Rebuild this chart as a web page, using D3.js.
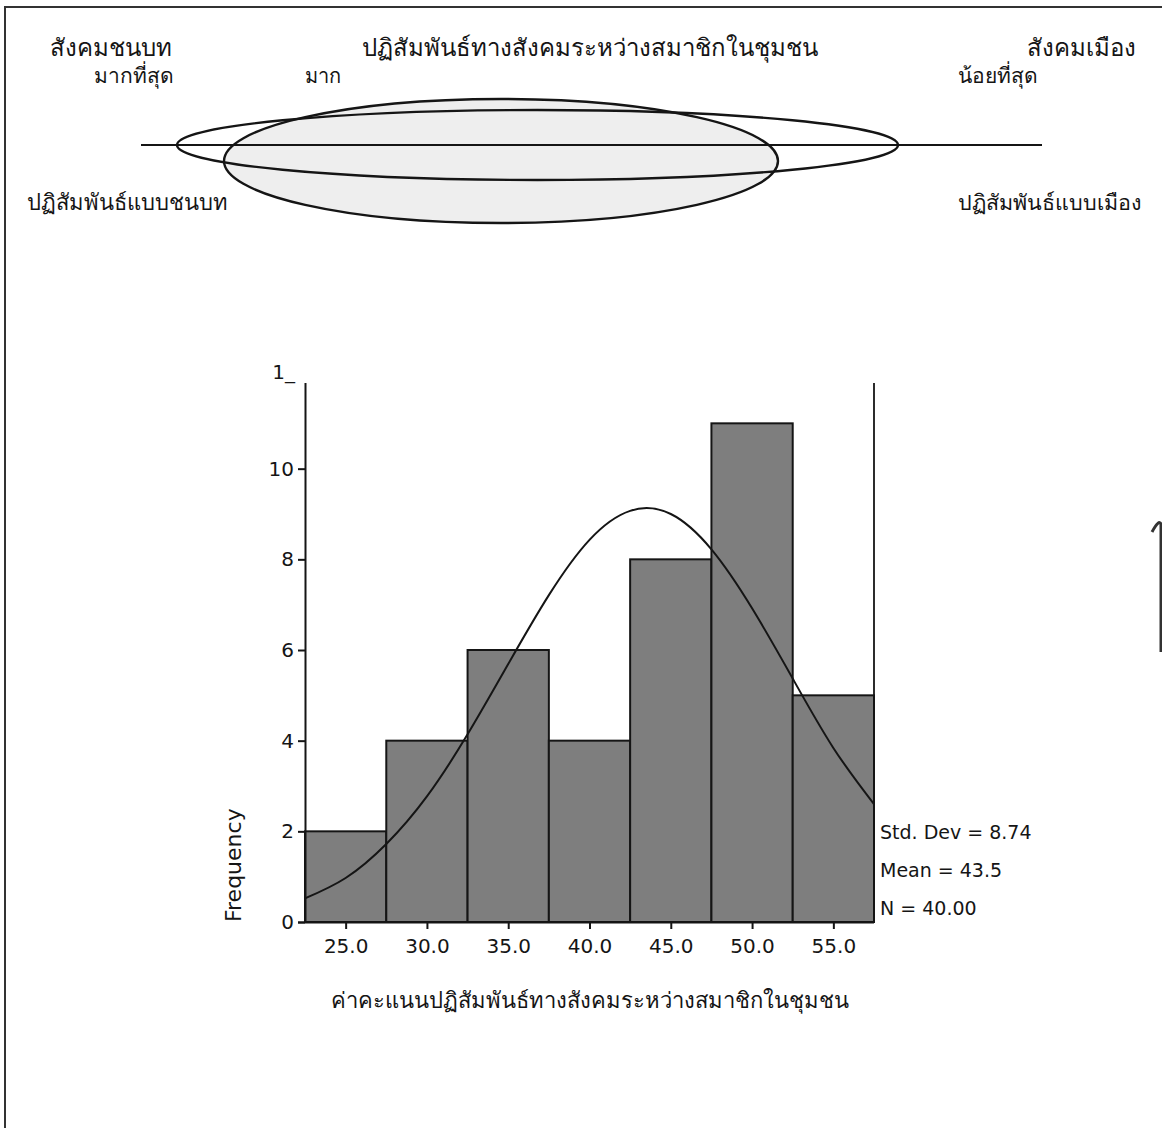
<!DOCTYPE html>
<html>
<head>
<meta charset="utf-8">
<script src="https://cdn.jsdelivr.net/npm/d3@7"></script>
<style>
  html, body { margin: 0; padding: 0; background: #fff; }
  svg { display: block; }
</style>
</head>
<body>
<svg id="chart" width="1162" height="1128"></svg>
<script>
// ---- data ----
const binEdges = [22.5, 27.5, 32.5, 37.5, 42.5, 47.5, 52.5, 57.5];
const binCounts = [2, 4, 6, 4, 8, 11, 5];
const xTickValues = [25, 30, 35, 40, 45, 50, 55];
const xTickLabels = ["25.0", "30.0", "35.0", "40.0", "45.0", "50.0", "55.0"];
const yTickValues = [0, 2, 4, 6, 8, 10, 12];
const yTickLabels = ["0", "2", "4", "6", "8", "10", "1_"];
const curveX = [22.5, 25, 27.5, 30, 32.5, 35, 37.5, 40, 42.5, 45, 47.5, 50, 52.5, 55, 57.5];
const curveY = [0.52, 0.97, 1.72, 2.77, 4.14, 5.69, 7.21, 8.43, 9.07, 9.0, 8.22, 6.92, 5.37, 3.84, 2.6];
const statsLines = ["Std. Dev = 8.74", "Mean = 43.5", "N = 40.00"];
const xTitle = "ค่าคะแนนปฏิสัมพันธ์ทางสังคมระหว่างสมาชิกในชุมชน";
const yTitle = "Frequency";

(function () {
const svg = d3.select("#chart");
const sans = "'DejaVu Sans', sans-serif";
const serif = "'Liberation Serif', 'DejaVu Serif', serif";
const ink = "#151515";

// ---- page frame ----
svg.append("path").attr("d", "M5,1128 L5,7 L1162,7")
  .attr("fill", "none").attr("stroke", "#333").attr("stroke-width", 2);
svg.append("path").attr("d", "M1152,532 Q1159,519 1161,524 L1161,652")
  .attr("fill", "none").attr("stroke", "#333").attr("stroke-width", 3);

// ---- top diagram ----
const diag = svg.append("g");
diag.append("ellipse").attr("cx", 501).attr("cy", 161).attr("rx", 277).attr("ry", 62)
  .attr("fill", "#eeeeee").attr("stroke", ink).attr("stroke-width", 2.4);
diag.append("line").attr("x1", 141).attr("x2", 1042).attr("y1", 145).attr("y2", 145)
  .attr("stroke", ink).attr("stroke-width", 1.8);
diag.append("ellipse").attr("cx", 537.5).attr("cy", 145).attr("rx", 360.5).attr("ry", 35)
  .attr("fill", "none").attr("stroke", ink).attr("stroke-width", 2.4);

const topTexts = [
  {t: "สังคมชนบท", x: 50, y: 56, a: "start", s: 24},
  {t: "ปฏิสัมพันธ์ทางสังคมระหว่างสมาชิกในชุมชน", x: 590, y: 56, a: "middle", s: 24},
  {t: "สังคมเมือง", x: 1136, y: 56, a: "end", s: 24},
  {t: "มากที่สุด", x: 94, y: 83, a: "start", s: 21},
  {t: "มาก", x: 305, y: 83, a: "start", s: 20},
  {t: "น้อยที่สุด", x: 958, y: 83, a: "start", s: 21},
  {t: "ปฏิสัมพันธ์แบบชนบท", x: 27, y: 210, a: "start", s: 22},
  {t: "ปฏิสัมพันธ์แบบเมือง", x: 1141, y: 210, a: "end", s: 21.5}
];
diag.selectAll("text.top").data(topTexts).join("text")
  .attr("x", d => d.x).attr("y", d => d.y)
  .attr("text-anchor", d => d.a)
  .attr("font-family", serif).attr("font-size", d => d.s)
  .attr("fill", ink).text(d => d.t);

// ---- histogram ----
const x = d3.scaleLinear().domain([22.5, 57.5]).range([305, 874]);
const y = d3.scaleLinear().domain([0, 12]).range([922, 378]);

const bins = binCounts.map((c, i) => ({x0: binEdges[i], x1: binEdges[i + 1], c}));
svg.append("g").selectAll("rect").data(bins).join("rect")
  .attr("x", d => x(d.x0)).attr("width", d => x(d.x1) - x(d.x0))
  .attr("y", d => y(d.c)).attr("height", d => y(0) - y(d.c))
  .attr("fill", "#7e7e7e").attr("stroke", ink).attr("stroke-width", 2);

// normal curve
svg.append("defs").append("clipPath").attr("id", "plotclip")
  .append("rect").attr("x", x(22.5)).attr("y", y(12)).attr("width", x(57.5) - x(22.5)).attr("height", y(0) - y(12));
const curvePts = curveX.map((v, i) => [v, curveY[i]]);
svg.append("path").datum(curvePts)
  .attr("clip-path", "url(#plotclip)")
  .attr("d", d3.line().x(d => x(d[0])).y(d => y(d[1])).curve(d3.curveNatural))
  .attr("fill", "none").attr("stroke", ink).attr("stroke-width", 2);

// right frame line
svg.append("line").attr("x1", x(57.5)).attr("x2", x(57.5)).attr("y1", y(12) + 5).attr("y2", y(0))
  .attr("stroke", ink).attr("stroke-width", 1.8);

// x axis
const xAxis = d3.axisBottom(x).tickValues(xTickValues)
  .tickFormat((d, i) => xTickLabels[i]).tickSize(7).tickSizeOuter(0).tickPadding(10);
const gx = svg.append("g").attr("transform", `translate(0,${y(0)})`).call(xAxis);
gx.select(".domain").attr("stroke", ink).attr("stroke-width", 2)
  .attr("d", `M${x(22.5) - 7},0.5H${x(57.5)}`);
gx.selectAll(".tick line").attr("stroke", ink).attr("stroke-width", 2);
gx.selectAll(".tick text").attr("font-family", sans).attr("font-size", 20).attr("fill", ink);

// y axis
const yAxis = d3.axisLeft(y).tickValues(yTickValues)
  .tickFormat((d, i) => yTickLabels[i]).tickSize(7).tickSizeOuter(0).tickPadding(8);
const gy = svg.append("g").attr("transform", `translate(${x(22.5)},0)`).call(yAxis);
gy.select(".domain").attr("stroke", ink).attr("stroke-width", 2)
  .attr("d", `M0.5,${y(12) + 5}V${y(0)}`);
gy.selectAll(".tick line").attr("stroke", ink).attr("stroke-width", 2)
  .attr("display", d => d === 12 ? "none" : null);
gy.selectAll(".tick text").attr("font-family", sans).attr("font-size", 20).attr("fill", ink)
  .attr("dy", d => d === 12 ? "0" : "0.32em")
  .attr("x", d => d === 12 ? -10 : -11);

// axis titles
svg.append("text").attr("transform", `translate(241,${y(0)}) rotate(-90)`)
  .attr("text-anchor", "start").attr("font-family", sans).attr("font-size", 22)
  .attr("fill", ink).text(yTitle);
svg.append("text").attr("x", 590).attr("y", 1008).attr("text-anchor", "middle")
  .attr("font-family", sans).attr("font-size", 22).attr("fill", ink).text(xTitle);

// stats
svg.append("g").selectAll("text").data(statsLines).join("text")
  .attr("x", 880).attr("y", (d, i) => 839 + i * 38)
  .attr("font-family", sans).attr("font-size", 19).attr("fill", ink).text(d => d);
})();
</script>
</body>
</html>
